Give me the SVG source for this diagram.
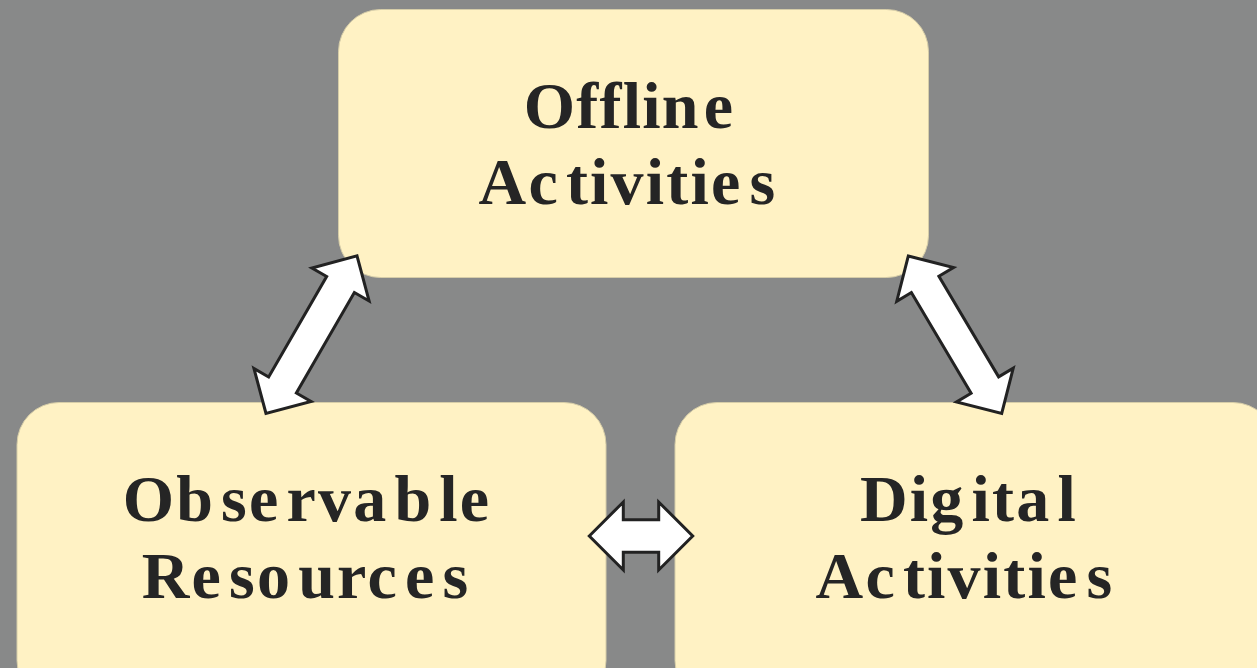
<svg xmlns="http://www.w3.org/2000/svg" width="1257" height="668" viewBox="0 0 1257 668">
<style>
.box{fill:#FFF2C4;stroke:#d6cda8;stroke-width:1}
.lbl{font-family:"Liberation Serif","Times New Roman",serif;font-weight:bold;font-size:66px;fill:#252525;letter-spacing:2.2px;text-anchor:middle}
.arr{fill:#ffffff;stroke:#222222;stroke-width:3;stroke-linejoin:miter}
</style>
<rect width="1257" height="668" fill="#888989"/>
<g id="node-offline">
<rect class="box" x="338.5" y="9.5" width="590" height="268" rx="42" ry="42"/>
<text class="lbl" x="629" y="128" style="letter-spacing:1.2px">Offlin<tspan dx="4">e</tspan></text>
<text class="lbl" x="628" y="204">Ac<tspan dx="6">tivitie</tspan><tspan dx="7">s</tspan></text>
</g>
<g id="node-observable">
<rect class="box" x="17" y="402.5" width="589" height="300" rx="42" ry="42"/>
<text class="lbl" x="307" y="521">Ob<tspan dx="6">se</tspan><tspan dx="6">rva</tspan><tspan dx="6">b</tspan><tspan dx="6">le</tspan></text>
<text class="lbl" x="306" y="598">Re<tspan dx="6">so</tspan><tspan dx="6">urc</tspan><tspan dx="6">e</tspan><tspan dx="6">s</tspan></text>
</g>
<g id="node-digital">
<rect class="box" x="675" y="402.5" width="600" height="300" rx="42" ry="42"/>
<text class="lbl" x="969" y="521">Dig<tspan dx="6">ita</tspan><tspan dx="6">l</tspan></text>
<text class="lbl" x="965" y="598">Ac<tspan dx="6">tivitie</tspan><tspan dx="7">s</tspan></text>
</g>
<g id="connectors">
<polygon class="arr" transform="translate(311.5,334.7) rotate(-60)" points="-91,0 -58,-33 -58,-16 58,-16 58,-33 91,0 58,33 58,16 -58,16 -58,33"/>
<polygon class="arr" transform="translate(955,334.7) rotate(59.3)" points="-91.5,0 -58.5,-33 -58.5,-16 58.5,-16 58.5,-33 91.5,0 58.5,33 58.5,16 -58.5,16 -58.5,33"/>
<polygon class="arr" transform="translate(641,536)" points="-51.7,0 -17.7,-34 -17.7,-16.3 17.7,-16.3 17.7,-34 51.7,0 17.7,34 17.7,16.3 -17.7,16.3 -17.7,34"/>
</g>
</svg>
